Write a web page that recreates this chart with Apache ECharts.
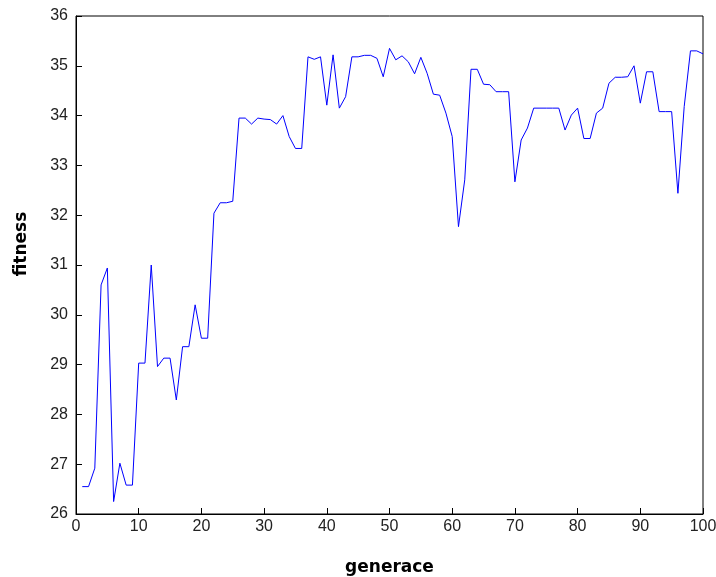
<!DOCTYPE html>
<html><head><meta charset="utf-8">
<script src="https://cdn.jsdelivr.net/npm/echarts@6/dist/echarts.min.js"></script>
<style>html,body{margin:0;padding:0;background:#fff}#c{width:716px;height:577px}</style>
</head><body><div id="c"></div>
<script>
const generations = Array.from({length:100},(_,i)=>i+1);
const fitness = [
 26.55,26.55,26.92,30.6,30.94,26.25,27.02,26.58,26.58,29.03,
 29.03,31.0,28.96,29.13,29.13,28.29,29.36,29.36,30.2,29.53,
 29.53,32.04,32.25,32.25,32.28,33.95,33.95,33.83,33.95,33.93,
 33.92,33.83,34.0,33.58,33.34,33.34,35.18,35.13,35.18,34.21,
 35.22,34.15,34.38,35.18,35.18,35.21,35.21,35.15,34.78,35.35,
 35.12,35.2,35.08,34.84,35.17,34.85,34.43,34.41,34.05,33.58,
 31.77,32.71,34.93,34.93,34.63,34.62,34.48,34.48,34.48,32.67,
 33.51,33.75,34.15,34.15,34.15,34.15,34.15,33.71,34.01,34.15,
 33.54,33.54,34.05,34.15,34.65,34.77,34.77,34.78,35.0,34.25,
 34.88,34.88,34.08,34.08,34.08,32.44,34.18,35.3,35.3,35.24
];
const xTitle = 'generace';
const yTitle = 'fitness';
const chart = echarts.init(document.getElementById('c'));
const labelFont = {fontFamily:'Liberation Sans, Arial, sans-serif', fontSize:16, color:'#222'};
const titleFont = {fontFamily:'DejaVu Sans, sans-serif',fontSize:17,fontWeight:'bold',color:'#000'};
chart.setOption({
  animation:false,
  grid:{left:76,right:13,top:16,bottom:63,outerBoundsMode:'none',containLabel:false,
    show:true,borderColor:'#000',borderWidth:1,backgroundColor:'#fff'},
  xAxis:{type:'value',min:0,max:100,interval:10,
    name:xTitle,nameLocation:'middle',nameGap:45,
    nameTextStyle:titleFont,
    axisLine:{show:true,onZero:false,lineStyle:{color:'#000',width:1}},
    axisTick:{show:true,inside:true,length:6,lineStyle:{color:'#000'}},
    axisLabel:Object.assign({margin:5},labelFont),
    splitLine:{show:false}},
  yAxis:{type:'value',min:26,max:36,interval:1,
    name:yTitle,nameLocation:'middle',nameGap:46,
    nameTextStyle:Object.assign({padding:[0,0,0,42]},titleFont),
    axisLine:{show:true,lineStyle:{color:'#000',width:1}},
    axisTick:{show:true,inside:true,length:6,lineStyle:{color:'#000'}},
    axisLabel:Object.assign({margin:8},labelFont),
    splitLine:{show:false}},
  series:[{type:'line',data:generations.map((g,i)=>[g,fitness[i]]),
    showSymbol:false,lineStyle:{color:'#0000ff',width:1},itemStyle:{color:'#0000ff'}}]
});
</script></body></html>
